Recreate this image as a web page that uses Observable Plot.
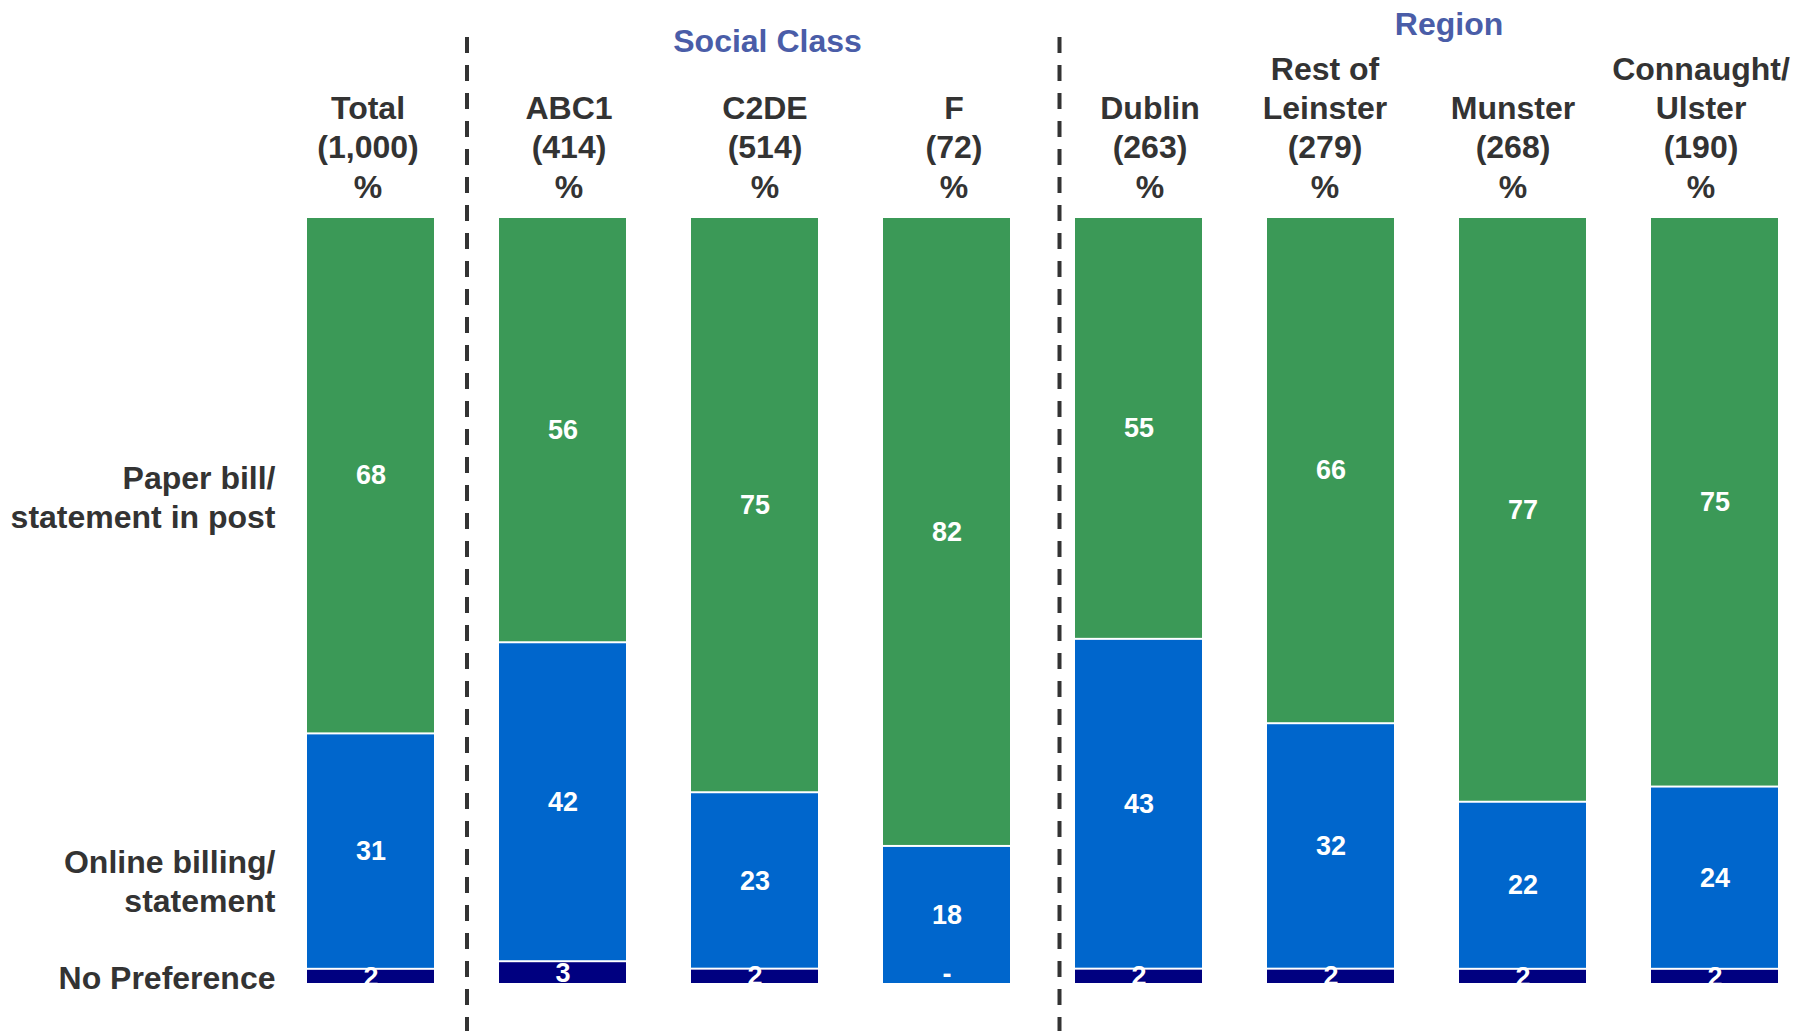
<!DOCTYPE html>
<html>
<head>
<meta charset="utf-8">
<script src="https://cdn.jsdelivr.net/npm/d3@7"></script>
<script src="https://cdn.jsdelivr.net/npm/@observablehq/plot@0.6"></script>
<style>
  html, body { margin: 0; padding: 0; background: #ffffff; }
  #chart svg { display: block; }
</style>
</head>
<body>
<div id="chart"></div>
<script>
// ---- Data ----
const categories = ["Total", "ABC1", "C2DE", "F", "Dublin", "Rest of Leinster", "Munster", "Connaught/Ulster"];
const headerLabels = [
  "Total\n(1,000)\n%",
  "ABC1\n(414)\n%",
  "C2DE\n(514)\n%",
  "F\n(72)\n%",
  "Dublin\n(263)\n%",
  "Rest of\nLeinster\n(279)\n%",
  "Munster\n(268)\n%",
  "Connaught/\nUlster\n(190)\n%"
];
const seriesNames = ["No Preference", "Online billing/\nstatement", "Paper bill/\nstatement in post"];
const noPreference = [2, 3, 2, 0, 2, 2, 2, 2];
const onlineBilling = [31, 42, 23, 18, 43, 32, 22, 24];
const paperBill = [68, 56, 75, 82, 55, 66, 77, 75];
const groupTitles = ["Social Class", "Region"];

// ---- Styles ----
const seriesColors = ["#000080", "#0066cc", "#3b9957"];
const textColor = "#333333";
const groupColor = "#4a5da8";
const font = "'Liberation Sans', Arial, Helvetica, sans-serif";
const headerDx = [-3, 6, 10, 7, 11, -6, -10, -14];   // small nudges of the header texts
const rowLabelDy = [0, 28, 20];                        // nudges of the row labels (per series)

// ---- Build tidy table ----
const seriesValues = [noPreference, onlineBilling, paperBill];
const data = [];
categories.forEach((c, i) => {
  seriesValues.forEach((vals, s) => {
    data.push({category: c, series: seriesNames[s], value: vals[i]});
  });
});

const stackOpts = {x: "category", y: "value", z: "series", order: seriesNames, offset: "normalize"};

// row labels: placed at the Total column's segment midpoints, right-aligned left of the bars
const rowLabelMarks = seriesNames.map((name, s) =>
  Plot.text(data, Plot.stackY({
    ...stackOpts,
    text: d => (d.category === categories[0] && d.series === name) ? d.series : null,
    textAnchor: "end",
    dx: -95.5,
    dy: rowLabelDy[s],
    lineAnchor: "middle",
    lineHeight: 1.22,
    fontSize: 32,
    fontWeight: "bold",
    fill: textColor
  }))
);

const headerMarks = categories.map((c, i) =>
  Plot.text([headerLabels[i]], {
    x: () => c,
    text: d => d,
    frameAnchor: "top",
    lineAnchor: "bottom",
    dx: headerDx[i],
    dy: -20,
    lineHeight: 1.22,
    fontSize: 32,
    fontWeight: "bold",
    fill: textColor
  })
);

const chart = Plot.plot({
  width: 1793,
  height: 1031,
  marginTop: 217,
  marginBottom: 47,
  marginLeft: 296,
  marginRight: 5,
  style: {fontFamily: font, background: "#ffffff", overflow: "visible"},
  x: {domain: categories, paddingInner: 0.34, paddingOuter: 0.05, axis: null},
  y: {domain: [0, 1], axis: null},
  color: {domain: seriesNames, range: seriesColors},
  marks: [
    Plot.barY(data, Plot.stackY({
      ...stackOpts,
      filter: d => d.value > 0,
      fill: "series",
      insetTop: 1,
      insetBottom: 1
    })),
    // value labels
    Plot.text(data, Plot.stackY({
      ...stackOpts,
      text: d => d.value === 0 ? null : String(d.value),
      fill: "white",
      fontSize: 27,
      fontWeight: "bold"
    })),
    // zero values shown as a dash
    Plot.text(data, Plot.stackY({
      ...stackOpts,
      text: d => d.value === 0 ? "-" : null,
      fill: "white",
      fontSize: 27,
      fontWeight: "bold",
      dy: -10
    })),
    // dashed group separators
    Plot.ruleX(["ABC1"], {
      x: d => d, dx: -96, stroke: "#333333", strokeWidth: 4,
      strokeDasharray: "16,12", insetTop: -180, insetBottom: -47
    }),
    Plot.ruleX(["Dublin"], {
      x: d => d, dx: -79.5, stroke: "#333333", strokeWidth: 4,
      strokeDasharray: "16,12", insetTop: -180, insetBottom: -47
    }),
    ...headerMarks,
    // group titles
    Plot.text([groupTitles[0]], {
      x: () => "C2DE", text: d => d, frameAnchor: "top", lineAnchor: "bottom",
      dx: 12.5, dy: -166, fontSize: 32, fontWeight: "bold", fill: groupColor
    }),
    Plot.text([groupTitles[1]], {
      x: () => "Rest of Leinster", text: d => d, frameAnchor: "top", lineAnchor: "bottom",
      dx: 118, dy: -183, fontSize: 32, fontWeight: "bold", fill: groupColor
    }),
    ...rowLabelMarks
  ]
});

document.getElementById("chart").appendChild(chart);
</script>
</body>
</html>
